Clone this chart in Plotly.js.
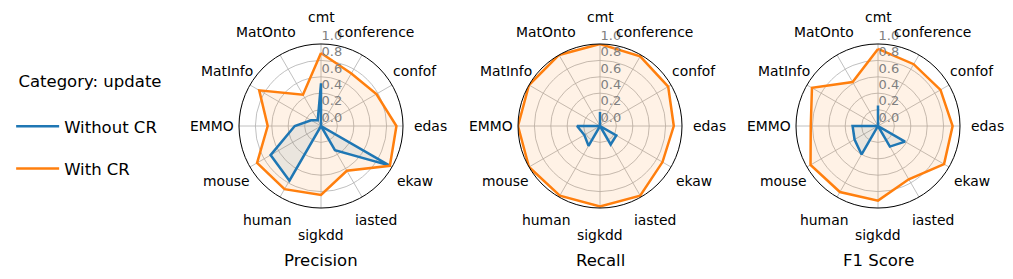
<!DOCTYPE html>
<html>
<head>
<meta charset="utf-8">
<script src="https://cdn.plot.ly/plotly-3.0.1.min.js"></script>
<style>html,body{margin:0;padding:0;background:#fff;}#chart{width:1013px;height:279px;}</style>
</head>
<body>
<div id="chart"></div>
<script>
const categories = ['cmt','conference','confof','edas','ekaw','iasted','sigkdd','human','mouse','EMMO','MatInfo','MatOnto'];
const precisionWithout = [0.52, 0.0, 0.0, 0.0, 0.96, 0.34, 0.0, 0.77, 0.71, 0.32, 0.14, 0.08];
const precisionWith    = [0.89, 0.74, 0.78, 0.92, 0.97, 0.63, 0.84, 0.89, 0.90, 0.65, 0.87, 0.44];
const recallWithout    = [0.17, 0.0, 0.0, 0.0, 0.23, 0.26, 0.0, 0.28, 0.22, 0.28, 0.0, 0.0];
const recallWith       = [1.0, 0.98, 0.96, 0.90, 0.88, 0.98, 0.98, 0.98, 1.0, 1.0, 1.0, 1.0];
const f1Without        = [0.25, 0.0, 0.0, 0.0, 0.38, 0.29, 0.0, 0.40, 0.33, 0.31, 0.0, 0.0];
const f1With           = [0.94, 0.87, 0.88, 0.91, 0.93, 0.75, 0.91, 0.93, 0.95, 0.82, 0.93, 0.62];
const metricTitles = ['Precision', 'Recall', 'F1 Score'];
const seriesNames = ['Without CR', 'With CR'];
const radialTicks = [0, 0.2, 0.4, 0.6, 0.8, 1.0];
const radialTickText = ['0.0', '0.2', '0.4', '0.6', '0.8', '1.0'];
const legendTitle = 'Category: update';

const FONT = 'DejaVu Sans, sans-serif';
const colors = ['#1f77b4', '#ff7f0e'];
const fills = ['rgba(31,119,180,0.1)', 'rgba(255,127,14,0.1)'];
const metricData = [[precisionWithout, precisionWith], [recallWithout, recallWith], [f1Without, f1With]];

const W = 1013, H = 279;
const centersX = [321, 600, 878];
const centerY = 126, R = 82, LABEL_R = 109;

const close = a => a.concat([a[0]]);
const fillTraces = [], lineTraces = [];
metricData.forEach((pair, mi) => {
  const subplot = mi === 0 ? 'polar' : 'polar' + (mi + 1);
  pair.forEach((vals, si) => {
    fillTraces.push({
      type: 'scatterpolar',
      r: close(vals),
      theta: close(categories),
      mode: 'lines',
      fill: 'toself',
      fillcolor: fills[si],
      line: {color: 'rgba(0,0,0,0)', width: 0},
      name: seriesNames[si],
      legendgroup: seriesNames[si],
      showlegend: false,
      subplot: subplot,
      hoverinfo: 'skip'
    });
    lineTraces.push({
      type: 'scatterpolar',
      r: close(vals),
      theta: close(categories),
      mode: 'lines',
      line: {color: colors[si], width: 2.5},
      name: seriesNames[si],
      legendgroup: seriesNames[si],
      showlegend: mi === 0,
      subplot: subplot,
      hoverinfo: 'skip'
    });
  });
});
const traces = fillTraces.concat(lineTraces);

const annotations = [];
metricTitles.forEach((t, i) => {
  annotations.push({
    text: t, xref: 'paper', yref: 'paper',
    x: centersX[i] / W, y: 1 - 260 / H,
    xanchor: 'center', yanchor: 'middle', showarrow: false,
    font: {size: 16.5, family: FONT, color: '#000'}
  });
  // angular category labels, centred on a circle outside the plot (matplotlib style)
  categories.forEach((c, k) => {
    const a = (90 - k * 360 / categories.length) * Math.PI / 180;
    annotations.push({
      text: c, xref: 'paper', yref: 'paper',
      x: (centersX[i] + LABEL_R * Math.cos(a)) / W,
      y: 1 - (centerY - LABEL_R * Math.sin(a)) / H,
      xanchor: 'center', yanchor: 'middle', showarrow: false,
      font: {size: 13.9, family: FONT, color: '#000'}
    });
  });
});

const layout = {
  width: W, height: H,
  margin: {l: 0, r: 0, t: 0, b: 0},
  paper_bgcolor: '#fff',
  font: {family: FONT, color: '#000', size: 14},
  showlegend: true,
  legend: {
    x: 0.011, y: 1 - 66 / H, xanchor: 'left', yanchor: 'top',
    title: {text: ' ' + legendTitle + '<br> ', font: {size: 16.5, family: FONT}},
    font: {size: 16.5, family: FONT},
    traceorder: 'grouped',
    tracegroupgap: 18,
    itemwidth: 43,
    bgcolor: 'rgba(0,0,0,0)'
  },
  annotations: annotations
};

metricTitles.forEach((t, i) => {
  const key = i === 0 ? 'polar' : 'polar' + (i + 1);
  layout[key] = {
    domain: {
      x: [(centersX[i] - R) / W, (centersX[i] + R) / W],
      y: [1 - (centerY + R) / H, 1 - (centerY - R) / H]
    },
    bgcolor: '#fff',
    angularaxis: {
      type: 'category',
      categoryarray: categories,
      rotation: 90,
      direction: 'clockwise',
      showline: true, linecolor: '#000', linewidth: 1,
      showgrid: true, gridcolor: '#b0b0b0', gridwidth: 0.8,
      ticks: '', showticklabels: false
    },
    radialaxis: {
      range: [0, 1],
      angle: 90,
      side: 'clockwise',
      tickangle: 90,
      tickvals: radialTicks,
      ticktext: radialTickText.map(s => s + '<br> '),
      showline: false,
      ticks: '',
      showgrid: true, gridcolor: '#b0b0b0', gridwidth: 0.8,
      tickfont: {size: 13, family: FONT, color: '#808080'}
    }
  };
});

Plotly.newPlot('chart', traces, layout, {staticPlot: true, displayModeBar: false});
</script>
</body>
</html>
